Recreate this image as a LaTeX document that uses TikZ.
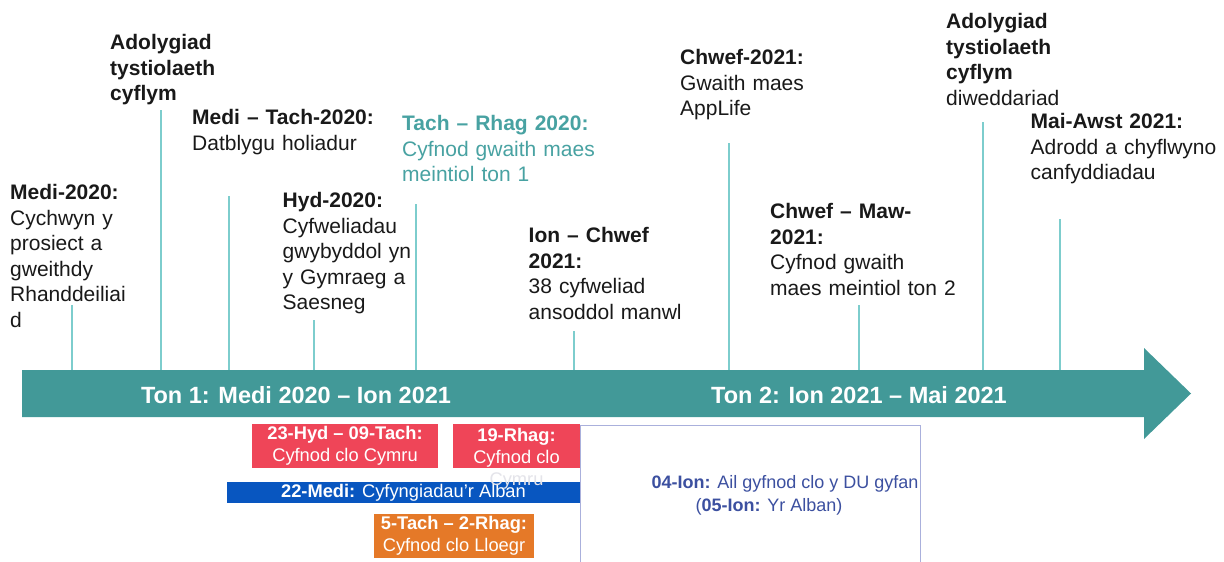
\documentclass[tikz,border=0pt]{standalone}
\usepackage{fontspec}
\setmainfont{Liberation Sans}
\definecolor{arrowc}{RGB}{66,153,152}
\definecolor{tickc}{RGB}{125,205,205}
\definecolor{tealtxt}{RGB}{72,162,162}
\definecolor{ink}{RGB}{25,25,25}
\definecolor{redc}{RGB}{239,69,88}
\definecolor{bluec}{RGB}{8,86,192}
\definecolor{orangec}{RGB}{229,121,40}
\definecolor{framec}{RGB}{170,176,220}
\definecolor{navytxt}{RGB}{60,80,160}
\definecolor{ghost}{RGB}{228,228,234}
\begin{document}
\begin{tikzpicture}[x=1pt,y=-1pt,
  lbl/.style={anchor=north west, inner sep=0pt, align=left, text width=250pt,
    font=\fontsize{21}{25.5}\selectfont, text=ink},
  tick/.style={draw=tickc, line width=1.8pt},
  box/.style={inner sep=0pt, align=center, text=white,
    font=\fontsize{18.3}{22}\selectfont},
  tonlbl/.style={inner sep=0pt, text=white, font=\fontsize{23.5}{28}\selectfont\bfseries},
  navy/.style={inner sep=0pt, text=navytxt, font=\fontsize{18}{22}\selectfont}]
\fill[white] (0,0) rectangle (1224,562);
\useasboundingbox (0,0) rectangle (1224,562);

% main arrow
\fill[arrowc] (22,370) -- (1144,370) -- (1144,348) -- (1191,393.5) -- (1144,439) -- (1144,417) -- (22,417) -- cycle;
\coordinate (axis) at (0,370);

% tick lines
\coordinate (v1) at (72,305);
\coordinate (v2) at (161,110);
\coordinate (v3) at (229,196);
\coordinate (v4) at (314,320);
\coordinate (v5) at (416,204);
\coordinate (v6) at (574,331);
\coordinate (v7) at (729,143);
\coordinate (v8) at (859,305);
\coordinate (v9) at (983,122);
\coordinate (v10) at (1060,219);
\foreach \v in {v1,v2,v3,v4,v5,v6,v7,v8,v9,v10}
  \draw[tick] (\v) -- (\v |- axis);

% labels above
\node[lbl] (l1) at (10,181.75) {\strut\textbf{Medi-2020:}\\Cychwyn y\\prosiect a\\gweithdy\\Rhanddeiliai\\d};
\node[lbl] (l2) at (110,31.75) {\strut\textbf{Adolygiad}\\\textbf{tystiolaeth}\\\textbf{cyflym}};
\node[lbl] (l3) at (192,106.75) {\strut\textbf{Medi – Tach-2020:}\\Datblygu holiadur};
\node[lbl] (l4) at (282.5,189.75) {\strut\textbf{Hyd-2020:}\\Cyfweliadau\\gwybyddol yn\\y Gymraeg a\\Saesneg};
\node[lbl, text=tealtxt] (l5) at (402,112.75) {\strut\textbf{Tach – Rhag 2020:}\\Cyfnod gwaith maes\\meintiol ton 1};
\node[lbl] (l6) at (528.5,224.75) {\strut\textbf{Ion – Chwef}\\\textbf{2021:}\\38 cyfweliad\\ansoddol manwl};
\node[lbl] (l7) at (680,46.75) {\strut\textbf{Chwef-2021:}\\Gwaith maes\\AppLife};
\node[lbl] (l8) at (770,200.75) {\strut\textbf{Chwef – Maw-}\\\textbf{2021:}\\Cyfnod gwaith\\maes meintiol ton 2};
\node[lbl] (l9) at (946,10.75) {\strut\textbf{Adolygiad}\\\textbf{tystiolaeth}\\\textbf{cyflym}\\diweddariad};
\node[lbl] (l10) at (1030.5,110.75) {\strut\textbf{Mai-Awst 2021:}\\Adrodd a chyflwyno\\canfyddiadau};

% arrow labels
\node[tonlbl] (ton1) at (296,395) {Ton 1: Medi 2020 – Ion 2021};
\node[tonlbl] (ton2) at (859,395) {Ton 2: Ion 2021 – Mai 2021};

% lockdown frame
\draw[framec, line width=1pt] (580,562) -- (580,425) -- (920,425) -- (920,562);
\node[navy] (ion1) at (785,484) {\textbf{04-Ion:} Ail gyfnod clo y DU gyfan};
\node[navy] (ion2) at (769,507) {(\textbf{05-Ion:} Yr Alban)};

% boxes
\node[box, fill=bluec, minimum width=353pt, minimum height=21pt] (scot) at (403.5,492.5) {\textbf{22-Medi:} Cyfyngiadau'r Alban};
\node[box, fill=redc, minimum width=186pt, minimum height=44pt] (wal1) at (345,446) {\textbf{23-Hyd – 09-Tach:}\\Cyfnod clo Cymru};
\node[box, fill=redc, minimum width=127pt, minimum height=44pt] (wal2) at (516.5,446) {};
\node[box, text=white] (wal2t) at (516.5,459) {\textbf{19-Rhag:}\\Cyfnod clo\\\textcolor{ghost}{Cymru}};
\node[box, fill=orangec, minimum width=160pt, minimum height=44pt] (eng) at (454,536) {\textbf{5-Tach – 2-Rhag:}\\Cyfnod clo Lloegr};
\end{tikzpicture}
\end{document}
